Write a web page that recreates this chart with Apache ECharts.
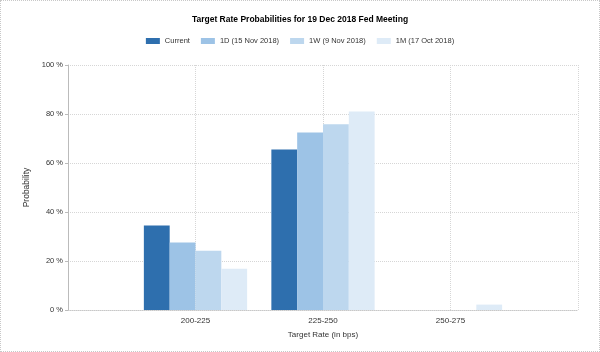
<!DOCTYPE html>
<html>
<head>
<meta charset="utf-8">
<script src="https://cdn.jsdelivr.net/npm/echarts@6/dist/echarts.min.js"></script>
<style>
  html, body { margin: 0; padding: 0; background: #fff; }
  #chart { width: 598px; height: 350px; border: 1px dotted #c8c8c8; }
</style>
</head>
<body>
<div id="chart"></div>
<script>
// blank slots at both ends so the axis runs past the first/last bucket
const categories = ['', '200-225', '225-250', '250-275', ''];
const current = [null, 34.5, 65.5, 0, null];
const oneDay = [null, 27.6, 72.4, 0, null];
const oneWeek = [null, 24.2, 75.8, 0, null];
const oneMonth = [null, 16.8, 81.0, 2.2, null];
const yTicks = [0, 20, 40, 60, 80, 100];

const font = 'Liberation Sans, Arial, sans-serif';
const colors = ['#2e6fae', '#9dc3e6', '#bdd7ee', '#deebf7'];

let myChart = echarts.init(document.getElementById('chart'));

let bar = (name, data) => ({
  name: name,
  type: 'bar',
  data: data,
  barGap: '0%',
  barCategoryGap: '19%'
});

let option = {
  animation: false,
  color: colors,
  textStyle: { fontFamily: font },
  title: {
    text: 'Target Rate Probabilities for 19 Dec 2018 Fed Meeting',
    left: 'center',
    top: 9,
    textStyle: { fontSize: 8.5, fontWeight: 'bold', color: '#000', fontFamily: font }
  },
  legend: {
    top: 31,
    left: 'center',
    itemWidth: 14,
    itemHeight: 6,
    itemGap: 11,
    icon: 'rect',
    textStyle: { fontSize: 7.5, color: '#333', fontFamily: font }
  },
  grid: { left: 67, right: 21, top: 64, bottom: 41 },
  xAxis: {
    type: 'category',
    data: categories,
    boundaryGap: false,
    name: 'Target Rate (in bps)',
    nameLocation: 'middle',
    nameGap: 21,
    nameTextStyle: { fontSize: 8, color: '#333' },
    axisLine: { lineStyle: { color: '#c8c8c8', type: 'dotted' } },
    axisTick: { show: false },
    axisLabel: { fontSize: 8, color: '#333', margin: 7 },
    splitLine: { show: true, lineStyle: { color: '#d6d6d6', type: 'dotted' } }
  },
  yAxis: {
    type: 'value',
    min: yTicks[0],
    max: yTicks[yTicks.length - 1],
    interval: 20,
    name: 'Probability',
    nameLocation: 'middle',
    nameGap: 35,
    nameTextStyle: { fontSize: 8.5, color: '#333' },
    axisLine: { show: true, lineStyle: { color: '#bbb' } },
    axisTick: { show: true, length: 3, lineStyle: { color: '#bbb' } },
    axisLabel: { fontSize: 7.5, color: '#333', margin: 5, formatter: '{value} %' },
    splitLine: { lineStyle: { color: '#d6d6d6', type: 'dotted' } }
  },
  series: [
    bar('Current', current),
    bar('1D (15 Nov 2018)', oneDay),
    bar('1W (9 Nov 2018)', oneWeek),
    bar('1M (17 Oct 2018)', oneMonth)
  ]
};
myChart.setOption(option);
</script>
</body>
</html>
